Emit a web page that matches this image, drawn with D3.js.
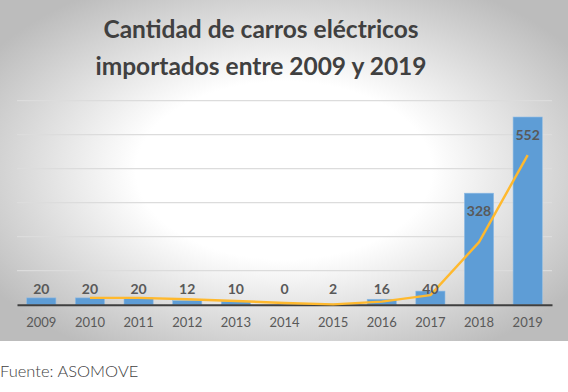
<!DOCTYPE html>
<html><head><meta charset="utf-8">
<script src="https://cdn.jsdelivr.net/npm/d3@7"></script>
<style>html,body{margin:0;padding:0;background:#fff;}svg{display:block;}</style>
</head><body>
<svg id="c" width="568" height="392"></svg>
<script>
const years = ["2009","2010","2011","2012","2013","2014","2015","2016","2017","2018","2019"];
const values = [20,20,20,12,10,0,2,16,40,328,552];
// 2-period moving average trendline (starts at 2010)
const trend = [null,20,20,16,11,5,1,9,28,184,440];
const yTicks = [100,200,300,400,500,600];
const titleLines = ["Cantidad de carros eléctricos","importados entre 2009 y 2019"];
const source = "Fuente: ASOMOVE";

const svg = d3.select("#c");
const defs = svg.append("defs");
const g = defs.append("radialGradient").attr("id","bg")
  .attr("cx","50%").attr("cy","50%").attr("r","62%");
g.append("stop").attr("offset","0%").attr("stop-color","#ffffff");
g.append("stop").attr("offset","42%").attr("stop-color","#ffffff");
g.append("stop").attr("offset","100%").attr("stop-color","#bcbcbc");

svg.append("rect").attr("x",0).attr("y",0).attr("width",568).attr("height",341).attr("fill","url(#bg)");

const x = d3.scaleBand().domain(years).range([17,552]).paddingInner(0.4).paddingOuter(0.2);
const y = d3.scaleLinear().domain([0,600]).range([304.7,100.7]);

// gridlines
svg.append("g").selectAll("line").data(yTicks).join("line")
  .attr("x1",17).attr("x2",552)
  .attr("y1",d=>y(d)).attr("y2",d=>y(d))
  .attr("stroke","#dcdcdc").attr("stroke-width",1.2);

// bars
svg.append("g").selectAll("rect").data(values).join("rect")
  .attr("x",(d,i)=>x(years[i])).attr("width",x.bandwidth())
  .attr("y",d=>y(d)).attr("height",d=>y(0)-y(d))
  .attr("fill","#5e9dd6").attr("stroke","#8fbbe4").attr("stroke-width",0.6);

// baseline axis
const xAxis = d3.axisBottom(x).tickSize(0).tickPadding(0);
const ax = svg.append("g").attr("transform",`translate(0,${y(0)})`).call(xAxis);
ax.select(".domain").attr("stroke","#3f3f3f").attr("stroke-width",2);
ax.selectAll("text").attr("font-family","Lato, sans-serif").attr("font-size","13px")
  .attr("fill","#595959").attr("dy",null).attr("y",22.5);

// trend line
const line = d3.line().defined(d=>d!==null)
  .x((d,i)=>x(years[i])+x.bandwidth()/2).y(d=>y(d));
svg.append("path").datum(trend).attr("d",line)
  .attr("fill","none").attr("stroke","#ffb92e").attr("stroke-width",2.4)
  .attr("stroke-linejoin","round");

// data labels
svg.append("g").selectAll("text").data(values).join("text")
  .attr("x",(d,i)=>x(years[i])+x.bandwidth()/2)
  .attr("y",d=> d>100 ? y(d)+22.5 : y(0)-10.5)
  .attr("text-anchor","middle")
  .attr("font-family","Lato, sans-serif").attr("font-weight","bold").attr("font-size","14px")
  .attr("fill","#595959").text(d=>d);

// title
svg.append("g").selectAll("text").data(titleLines).join("text")
  .attr("x",261).attr("y",(d,i)=>37.5+i*37)
  .attr("text-anchor","middle")
  .attr("font-family","Lato, sans-serif").attr("font-weight","bold").attr("font-size","24.5px")
  .attr("fill","#404040").text(d=>d);

// source
svg.append("text").attr("x",0).attr("y",376.5)
  .attr("font-family","Lato, sans-serif").attr("font-weight","300").attr("font-size","16.5px")
  .attr("fill","#404040").text(source);
</script>
</body></html>
